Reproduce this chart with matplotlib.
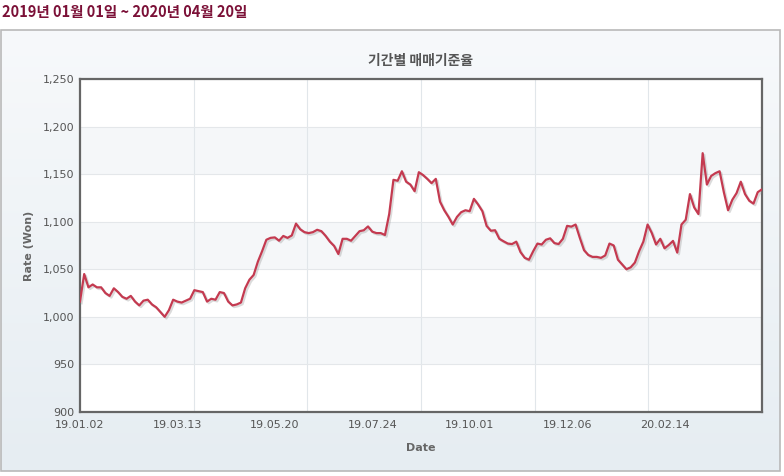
import matplotlib
matplotlib.use('Agg')
import matplotlib.pyplot as plt
import matplotlib.patheffects as pe
import numpy as np
from matplotlib.patches import Rectangle
from matplotlib.ticker import FuncFormatter

period = '2019년 01월 01일 ~ 2020년 04월 20일'
title = '기간별 매매기준율'
x_title = 'Date'
y_title = 'Rate (Won)'

tick_dates = ['19.01.02', '19.03.13', '19.05.20', '19.07.24', '19.10.01', '19.12.06', '20.02.14']
label_step = 23

# 매매기준율 (원/달러)
rate = [
    1016, 1045, 1031, 1034, 1031, 1031, 1025, 1022, 1030, 1026,
    1021, 1019, 1022, 1016, 1012, 1017, 1018, 1013, 1010, 1005,
    1000, 1007, 1018, 1016, 1015, 1017, 1019, 1028, 1027, 1026,
    1016, 1019, 1018, 1026, 1025, 1016, 1012, 1013, 1015, 1030,
    1039, 1044, 1058, 1069, 1081, 1083, 1083.5, 1080, 1085, 1083,
    1085.5, 1098, 1092, 1089, 1088, 1089, 1091.5, 1090, 1085, 1079,
    1074.5, 1066, 1082, 1082, 1080, 1085, 1090, 1091, 1095, 1089.5,
    1088, 1088, 1086, 1108, 1144, 1143, 1153, 1142, 1139, 1132,
    1152, 1149, 1145, 1140.5, 1145, 1121, 1112, 1105, 1097, 1105,
    1110, 1112, 1111, 1124, 1118, 1111, 1095.5, 1090.5, 1091, 1082,
    1079.4, 1077, 1076.5, 1079, 1068, 1062, 1060, 1069, 1077, 1076,
    1081, 1082.5, 1077.5, 1076.5, 1082, 1095.6, 1094.8, 1097, 1083, 1070,
    1065, 1063, 1063, 1062, 1064.5, 1077, 1075, 1060, 1055, 1050,
    1052, 1057, 1069, 1079, 1097, 1088, 1076, 1082, 1072, 1075.5,
    1079.8, 1067.5, 1097, 1102, 1129, 1115, 1108, 1172, 1139, 1148,
    1151, 1153, 1131, 1112, 1123, 1130, 1142, 1129, 1122, 1119,
    1131, 1134,
]

y_min, y_max, y_step = 900, 1250, 50

text_gray = '#555555'
line_red = '#c43a50'

fig = plt.figure(figsize=(7.84, 4.76), dpi=100)
fig.patch.set_facecolor('white')

# panel background with a soft vertical gradient
bg = fig.add_axes([0.0013, 0.0105, 0.9936, 0.9265])
grad = np.linspace(0, 1, 256).reshape(-1, 1)
cmap = matplotlib.colors.LinearSegmentedColormap.from_list('panel', ['#f7f9fb', '#e6edf2'])
bg.imshow(grad, aspect='auto', cmap=cmap, extent=(0, 1, 0, 1), origin='upper')
bg.add_patch(Rectangle((0, 0), 1, 1, transform=bg.transAxes, fill=False,
                       edgecolor='#b9b9b9', linewidth=1.2, clip_on=False))
bg.set_xlim(0, 1)
bg.set_ylim(0, 1)
bg.axis('off')

fig.text(0.003, 0.974, period, color='#7b1037', fontsize=10.5, fontweight='bold',
         family=['Noto Sans CJK KR', 'DejaVu Sans'], ha='left', va='center')

ax = fig.add_axes([0.1020, 0.1345, 0.8699, 0.6996])
ax.set_facecolor('white')

x = np.arange(len(rate))
for lo in range(y_min + y_step, y_max, 2 * y_step):
    ax.axhspan(lo, lo + y_step, color='#f5f7f9', zorder=0, lw=0)

ax.plot(x, rate, color=line_red, linewidth=1.6, zorder=3,
        path_effects=[pe.SimpleLineShadow(offset=(1.2, -1.2), shadow_color='#888888', alpha=0.3),
                      pe.Normal()])

ax.set_xlim(0, len(rate) - 1)
ax.set_ylim(y_min, y_max)

ax.set_xticks(np.arange(len(tick_dates)) * label_step)
ax.set_xticklabels(tick_dates)
ax.set_xticks(np.linspace(0, len(rate) - 1, 7)[1:-1], minor=True)
ax.set_yticks(np.arange(y_min, y_max + 1, y_step))
ax.yaxis.set_major_formatter(FuncFormatter(lambda v, _: f'{v:,.0f}'))

ax.grid(axis='y', which='major', color='#e4e7ea', linewidth=0.8, zorder=1)
ax.grid(axis='x', which='minor', color='#e1e6ea', linewidth=0.8, zorder=1)
ax.set_axisbelow(True)

ax.tick_params(axis='both', which='both', length=0, labelsize=8, colors=text_gray)
ax.tick_params(axis='y', pad=4)
ax.tick_params(axis='x', pad=6)

for spine in ax.spines.values():
    spine.set_color('#666666')
    spine.set_linewidth(1.6)

ax.set_title(title, fontsize=10, fontweight='bold', color=text_gray,
             family=['Noto Sans CJK KR', 'DejaVu Sans'], pad=10)
ax.set_xlabel(x_title, fontsize=8, fontweight='bold', color='#666666', labelpad=9)
ax.set_ylabel(y_title, fontsize=8, fontweight='bold', color='#666666', labelpad=6)

fig.savefig('out.png', dpi=100)
